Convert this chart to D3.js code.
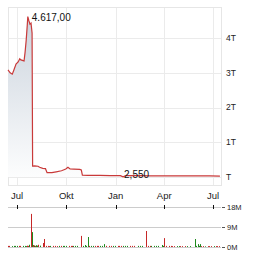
<!DOCTYPE html>
<html>
<head>
<meta charset="utf-8">
<style>
  body { margin: 0; background: #fff; }
  svg { display: block; font-family: "Liberation Sans", Arial, sans-serif; }
</style>
</head>
<body>
<svg width="264" height="255"></svg>
<script src="https://d3js.org/d3.v7.min.js"></script>
<script>
    var svg = d3.select("svg");

    // price series (date, value)
    var priceDates = ["2023-06-14", "2023-06-18", "2023-06-22", "2023-06-25", "2023-06-29", "2023-07-03",
        "2023-07-06", "2023-07-08", "2023-07-14", "2023-07-16", "2023-07-18", "2023-07-20", "2023-07-21",
        "2023-07-23", "2023-07-25", "2023-07-27", "2023-07-29", "2023-07-30", "2023-08-03", "2023-08-09",
        "2023-08-12", "2023-08-18", "2023-08-23", "2023-08-26", "2023-09-04", "2023-09-12", "2023-09-22",
        "2023-09-30", "2023-10-04", "2023-10-08", "2023-10-15", "2023-10-26", "2023-10-29", "2023-10-31",
        "2023-11-10", "2023-12-03", "2023-12-22", "2024-01-10", "2024-01-15", "2024-01-20", "2024-02-16",
        "2024-03-05", "2024-04-02", "2024-04-30", "2024-05-28", "2024-06-25", "2024-07-14"];
    var priceValues = [3080, 3000, 2960, 3080, 3250, 3310,
        3400, 3370, 3340, 3600, 3940, 4370, 4617,
        4500, 4400, 4430, 4140, 316, 320, 310,
        280, 250, 240, 125, 125, 150, 180,
        230, 280, 230, 225, 220, 200, 55,
        45, 45, 40, 40, 2.55, 38, 40,
        35, 32, 35, 30, 30, 28];

    // volume bars (date, millions, g = up / r = down)
    var volDates = ["2023-06-14", "2023-06-16", "2023-06-21", "2023-06-25", "2023-06-27", "2023-06-30",
        "2023-07-05", "2023-07-07", "2023-07-12", "2023-07-15", "2023-07-18", "2023-07-20", "2023-07-21",
        "2023-07-23", "2023-07-27", "2023-07-29", "2023-07-31", "2023-08-02", "2023-08-03", "2023-08-05",
        "2023-08-07", "2023-08-09", "2023-08-12", "2023-08-18", "2023-08-20", "2023-08-24", "2023-08-27",
        "2023-08-30", "2023-09-01", "2023-09-07", "2023-09-10", "2023-09-13", "2023-09-17", "2023-09-21",
        "2023-09-24", "2023-09-27", "2023-10-01", "2023-10-06", "2023-10-09", "2023-10-12", "2023-10-14",
        "2023-10-18", "2023-10-21", "2023-10-28", "2023-11-02", "2023-11-04", "2023-11-06", "2023-11-10",
        "2023-11-12", "2023-11-17", "2023-11-20", "2023-11-24", "2023-11-27", "2023-11-30", "2023-12-03",
        "2023-12-06", "2023-12-10", "2023-12-15", "2023-12-19", "2023-12-23", "2023-12-27", "2023-12-31",
        "2024-01-05", "2024-01-08", "2024-01-12", "2024-01-15", "2024-01-19", "2024-01-23", "2024-01-28",
        "2024-01-31", "2024-02-04", "2024-02-12", "2024-02-16", "2024-02-20", "2024-02-26", "2024-02-27",
        "2024-03-01", "2024-03-05", "2024-03-08", "2024-03-12", "2024-03-16", "2024-03-20", "2024-03-27",
        "2024-03-29", "2024-04-01", "2024-04-05", "2024-04-09", "2024-04-13", "2024-04-16", "2024-04-20",
        "2024-04-24", "2024-04-28", "2024-05-01", "2024-05-05", "2024-05-09", "2024-05-14", "2024-05-20",
        "2024-05-28", "2024-05-30", "2024-06-03", "2024-06-05", "2024-06-07", "2024-06-09", "2024-06-13",
        "2024-06-17", "2024-06-21", "2024-06-24", "2024-06-28", "2024-07-02", "2024-07-06", "2024-07-09",
        "2024-07-13"];
    var volValues = [0.5, 0.5, 0.4, 0.5, 0.5, 0.5,
        0.5, 0.5, 0.5, 0.5, 0.4, 0.6, 0.5,
        1.0, 14.9, 6.7, 0.9, 0.7, 0.5, 0.8,
        0.6, 1.0, 0.6, 1.8, 3.6, 0.5, 0.5,
        0.4, 0.5, 0.5, 0.5, 0.4, 0.5, 0.5,
        0.5, 0.5, 0.5, 0.5, 0.5, 0.5, 0.5,
        0.5, 0.5, 5.0, 0.5, 0.9, 0.5, 4.5,
        0.5, 0.5, 0.5, 0.5, 0.5, 0.5, 0.5,
        0.5, 1.3, 0.5, 0.5, 0.5, 0.5, 0.5,
        0.5, 0.5, 0.5, 0.5, 0.5, 0.5, 0.5,
        0.5, 0.5, 0.5, 0.5, 0.5, 7.2, 1.8,
        0.5, 0.5, 0.5, 0.5, 0.5, 0.5, 0.9,
        0.5, 4.0, 0.5, 0.5, 0.5, 0.4, 0.4,
        0.4, 0.4, 0.4, 0.4, 0.4, 0.4, 0.4,
        3.6, 0.5, 1.3, 0.5, 1.3, 0.4, 0.4,
        0.3, 0.4, 0.4, 0.4, 0.4, 0.4, 0.4,
        0.4];
    var volColors = ["r", "r", "g", "g", "g", "g",
        "r", "r", "g", "g", "g", "r", "r",
        "g", "r", "g", "r", "g", "r", "g",
        "g", "r", "g", "r", "r", "r", "r",
        "r", "g", "r", "r", "r", "g", "r",
        "g", "g", "g", "r", "r", "r", "g",
        "g", "g", "r", "g", "g", "g", "g",
        "r", "g", "g", "r", "r", "r", "g",
        "g", "g", "r", "r", "r", "g", "g",
        "r", "r", "r", "g", "g", "g", "r",
        "r", "r", "g", "g", "g", "r", "r",
        "r", "r", "g", "g", "g", "g", "g",
        "g", "r", "r", "r", "r", "r", "r",
        "g", "g", "r", "r", "r", "g", "g",
        "g", "g", "g", "g", "g", "r", "r",
        "g", "r", "r", "r", "g", "r", "r",
        "r"];

    var priceTicks = [0, 1000, 2000, 3000, 4000];
    var volTicks = [0, 9, 18];
    var monthNames = ["Jan", "Feb", "Mär", "Apr", "Mai", "Jun", "Jul", "Aug", "Sep", "Okt", "Nov", "Dez"];

    var de = d3.formatLocale({ decimal: ",", thousands: ".", grouping: [3], currency: ["", "€"] });
    var parse = d3.utcParse("%Y-%m-%d");

    var prices = priceDates.map(function(d, i) {
        return { date: parse(d), value: priceValues[i] };
    });
    var vols = volDates.map(function(d, i) {
        return { date: parse(d), value: volValues[i], up: volColors[i] == "g" };
    });

    var left = 8, right = 221;
    var x = d3.scaleUtc()
        .domain([parse("2023-06-14"), parse("2024-07-16")])
        .range([left, right]);
    var y = d3.scaleLinear().domain([0, 4000]).range([177, 38]);
    var yv = d3.scaleLinear().domain([0, 18]).range([247, 207]);
    var monthTicks = x.ticks(d3.utcMonth.every(3));

    // gradient for area
    var grad = svg.append("defs").append("linearGradient")
        .attr("id", "fillGrad")
        .attr("gradientUnits", "userSpaceOnUse")
        .attr("x1", 0).attr("x2", 0).attr("y1", 10).attr("y2", 185);
    grad.append("stop").attr("offset", 0).attr("stop-color", "#c9d2dc");
    grad.append("stop").attr("offset", 1).attr("stop-color", "#ffffff");

    // main grid
    svg.append("g").selectAll("line").data(priceTicks).enter().append("line")
        .attr("x1", left).attr("x2", right)
        .attr("y1", function(d) { return Math.round(y(d)) + 0.5; })
        .attr("y2", function(d) { return Math.round(y(d)) + 0.5; })
        .attr("stroke", "#ebebeb");
    svg.append("g").selectAll("line").data(monthTicks).enter().append("line")
        .attr("x1", function(d) { return Math.round(x(d)) + 0.5; })
        .attr("x2", function(d) { return Math.round(x(d)) + 0.5; })
        .attr("y1", 7).attr("y2", 185)
        .attr("stroke", "#ebebeb");
    svg.append("rect")
        .attr("x", left + 0.5).attr("y", 7.5)
        .attr("width", right - left).attr("height", 178)
        .attr("fill", "none").attr("stroke", "#e6e6e6");

    // area + line
    svg.append("path")
        .attr("d", d3.area()
            .x(function(d) { return x(d.date); })
            .y0(y(0))
            .y1(function(d) { return y(d.value); })(prices))
        .attr("fill", "url(#fillGrad)");
    svg.append("path")
        .attr("d", d3.line()
            .x(function(d) { return x(d.date); })
            .y(function(d) { return y(d.value); })(prices))
        .attr("fill", "none")
        .attr("stroke", "#c93a3a")
        .attr("stroke-width", 1.2);

    // max / min labels
    var maxP = prices[d3.maxIndex(prices, function(d) { return d.value; })];
    var minP = prices[d3.minIndex(prices, function(d) { return d.value; })];
    svg.append("text")
        .attr("x", x(maxP.date) + 4).attr("y", y(maxP.value) + 4)
        .attr("font-size", 10).attr("fill", "#111")
        .text(de.format(",.2f")(maxP.value));
    svg.append("text")
        .attr("x", x(minP.date) + 1).attr("y", y(minP.value) + 1)
        .attr("font-size", 10).attr("fill", "#111")
        .text(de.format(",.3f")(minP.value));

    // price axis labels
    svg.append("g").selectAll("text").data(priceTicks).enter().append("text")
        .attr("x", 226)
        .attr("y", function(d) { return y(d); })
        .attr("dy", "0.35em")
        .attr("font-size", 8.5).attr("fill", "#222")
        .text(function(d) { return d == 0 ? "T" : d / 1000 + "T"; });

    // month labels
    svg.append("g").selectAll("text").data(monthTicks).enter().append("text")
        .attr("x", function(d) { return x(d); })
        .attr("y", 199)
        .attr("text-anchor", "middle")
        .attr("font-size", 9.5).attr("fill", "#222")
        .text(function(d) { return monthNames[d.getUTCMonth()]; });

    // volume grid
    svg.append("g").selectAll("line").data(volTicks).enter().append("line")
        .attr("x1", left).attr("x2", right)
        .attr("y1", function(d) { return Math.round(yv(d)) + 0.5; })
        .attr("y2", function(d) { return Math.round(yv(d)) + 0.5; })
        .attr("stroke", "#cccccc");
    svg.append("g").selectAll("line").data(monthTicks).enter().append("line")
        .attr("x1", function(d) { return Math.round(x(d)) + 0.5; })
        .attr("x2", function(d) { return Math.round(x(d)) + 0.5; })
        .attr("y1", 205).attr("y2", 209)
        .attr("stroke", "#111");

    // volume bars
    svg.append("g").selectAll("rect").data(vols).enter().append("rect")
        .attr("x", function(d) { return Math.round(x(d.date)); })
        .attr("width", 1)
        .attr("y", function(d) { return yv(d.value); })
        .attr("height", function(d) { return yv(0) - yv(d.value); })
        .attr("fill", function(d) { return d.up ? "#1e8a1e" : "#c62828"; });

    // volume axis
    var va = svg.append("g").attr("transform", "translate(222,0)")
        .call(d3.axisRight(yv).tickValues(volTicks).tickSize(3).tickPadding(2)
            .tickFormat(function(d) { return d + "M"; }));
    va.select(".domain").remove();
    va.selectAll("line").attr("stroke", "#555");
    va.selectAll("text").attr("font-size", 7.5).attr("fill", "#222")
        .attr("font-family", "Liberation Sans, Arial, sans-serif");
</script>
</body>
</html>
